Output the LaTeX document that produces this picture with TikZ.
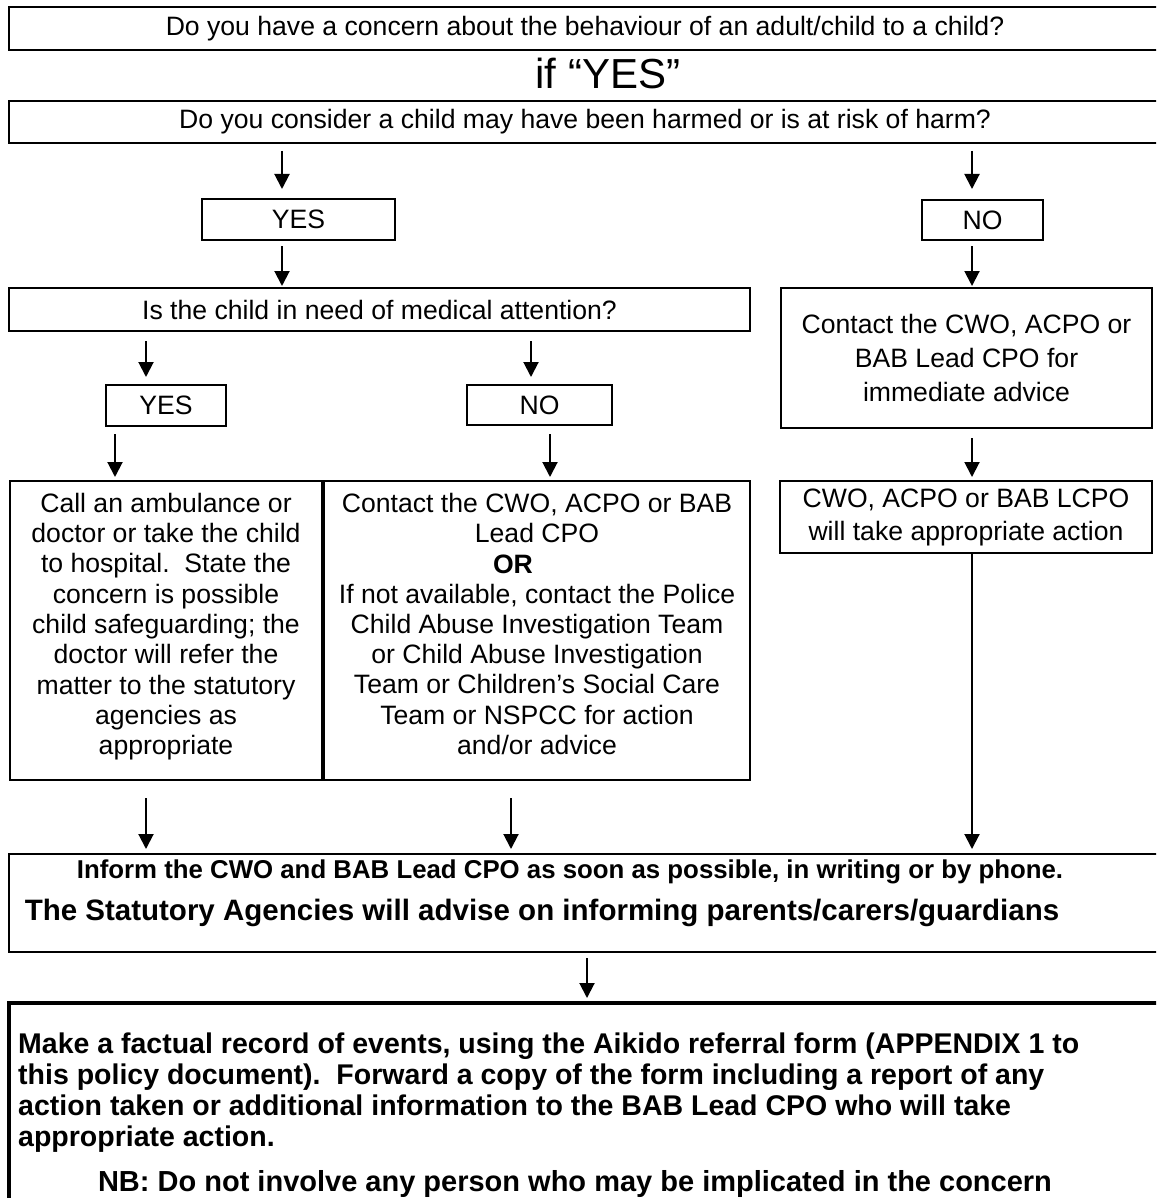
\documentclass[tikz,border=0pt]{standalone}
\usepackage{fontspec}
\setmainfont{Liberation Sans}
\usetikzlibrary{arrows.meta}
\begin{document}
\begin{tikzpicture}[x=1pt,y=-1pt,
  box/.style={draw, line width=2pt, rectangle, inner sep=0pt, align=center,
    font=\fontsize{26.6}{30.4}\selectfont},
  txt/.style={inner sep=0pt},
  arr/.style={line width=2pt, -{Triangle[width=15pt,length=15pt]}}]
\useasboundingbox (0,0) rectangle (1156,1198);
\clip (0,0) rectangle (1156,1198);
\fill[white] (0,0) rectangle (1156,1198);

% boxes
\node[box, minimum width=1152pt, minimum height=43pt] (b1) at (585,28.5)
  {Do you have a concern about the behaviour of an adult/child to a child?};
\node[txt, font=\fontsize{42}{46}\selectfont] (ifyes) at (608,73) {if “YES”};
\node[box, minimum width=1152pt, minimum height=42pt] (b2) at (585,122)
  {Do you consider a child may have been harmed or is at risk of harm?};
\node[box, minimum width=193pt, minimum height=41pt] (yes1) at (298.5,219.5) {YES};
\node[box, minimum width=121pt, minimum height=40pt] (no1) at (982.5,220) {NO};
\node[box, minimum width=741pt, minimum height=43pt] (b3) at (379.5,309.5)
  {Is the child in need of medical attention?};
\node[box, minimum width=371pt, minimum height=140pt,
  font=\fontsize{26.6}{34}\selectfont] (adv) at (966.5,358)
  {Contact the CWO, ACPO or\\BAB Lead CPO for\\immediate advice};
\node[box, minimum width=120pt, minimum height=41pt] (yes2) at (166,405.5) {YES};
\node[box, minimum width=145pt, minimum height=40pt] (no2) at (539.5,405) {NO};
\node[box, minimum width=312pt, minimum height=299pt,
  font=\fontsize{26.6}{30.3}\selectfont] (call) at (166,630.5)
  {Call an ambulance or\\doctor or take the child\\to hospital.\ \ State the\\concern is possible\\child safeguarding; the\\doctor will refer the\\matter to the statutory\\agencies as\\appropriate\\[-17pt]};
\node[box, minimum width=426pt, minimum height=299pt,
  font=\fontsize{26.6}{30.2}\selectfont] (contact) at (537,630.5)
  {Contact the CWO, ACPO or BAB\\Lead CPO\\\makebox[88pt][l]{\textbf{OR}}\\If not available, contact the Police\\Child Abuse Investigation Team\\or Child Abuse Investigation\\Team or Children’s Social Care\\Team or NSPCC for action\\and/or advice\\[-17pt]};
\node[box, minimum width=372pt, minimum height=72pt,
  font=\fontsize{26.6}{33}\selectfont] (cwo) at (966,517)
  {CWO, ACPO or BAB LCPO\\will take appropriate action};
\node[box, minimum width=1152pt, minimum height=98pt] (inform) at (585,903) {};
\node[txt, font=\bfseries\fontsize{25.8}{30}\selectfont] (inf1) at (570,872)
  {Inform the CWO and BAB Lead CPO as soon as possible, in writing or by phone.};
\node[txt, font=\bfseries\fontsize{29.5}{33}\selectfont] (inf2) at (542,913)
  {The Statutory Agencies will advise on informing parents/carers/guardians};
\node[draw, line width=4pt, rectangle, inner sep=0pt, minimum width=1156pt,
  minimum height=207pt] (record) at (587,1106.5) {};
\node[txt, anchor=north west, align=left, font=\bfseries\fontsize{28.5}{31}\selectfont]
  (rec1) at (18,1033)
  {Make a factual record of events, using the Aikido referral form (APPENDIX 1 to\\this policy document).\ \ Forward a copy of the form including a report of any\\action taken or additional information to the BAB Lead CPO who will take\\appropriate action.};
\node[txt, font=\bfseries\fontsize{29}{31}\selectfont] (rec2) at (575,1184)
  {NB: Do not involve any person who may be implicated in the concern};

% x positions of connectors
\coordinate (xa) at (282,0);
\coordinate (xb) at (972,0);
\coordinate (xc) at (146,0);
\coordinate (xd) at (531,0);
\coordinate (xe) at (115,0);
\coordinate (xf) at (550,0);
\coordinate (xg) at (511,0);
\coordinate (xh) at (587,0);

% connectors
\draw[arr, shorten <=7pt, shorten >=9pt] (b2.south -| xa) -- (yes1.north -| xa);
\draw[arr, shorten <=7pt, shorten >=10pt] (b2.south -| xb) -- (no1.north -| xb);
\draw[arr, shorten <=5pt, shorten >=1pt] (yes1.south -| xa) -- (b3.north -| xa);
\draw[arr, shorten <=5pt, shorten >=1pt] (no1.south -| xb) -- (adv.north -| xb);
\draw[arr, shorten <=9pt, shorten >=7pt] (b3.south -| xc) -- (yes2.north -| xc);
\draw[arr, shorten <=9pt, shorten >=7pt] (b3.south -| xd) -- (no2.north -| xd);
\draw[arr, shorten <=7pt, shorten >=3pt] (yes2.south -| xe) -- (call.north -| xe);
\draw[arr, shorten <=8pt, shorten >=3pt] (no2.south -| xf) -- (contact.north -| xf);
\draw[arr, shorten <=9pt, shorten >=3pt] (adv.south -| xb) -- (cwo.north -| xb);
\draw[arr, shorten >=4pt] (cwo.south -| xb) -- (inform.north -| xb);
\draw[arr, shorten <=17pt, shorten >=4pt] (call.south -| xc) -- (inform.north -| xc);
\draw[arr, shorten <=17pt, shorten >=4pt] (contact.south -| xg) -- (inform.north -| xg);
\draw[arr, shorten <=5pt, shorten >=3pt] (inform.south -| xh) -- (record.north -| xh);
\end{tikzpicture}
\end{document}
